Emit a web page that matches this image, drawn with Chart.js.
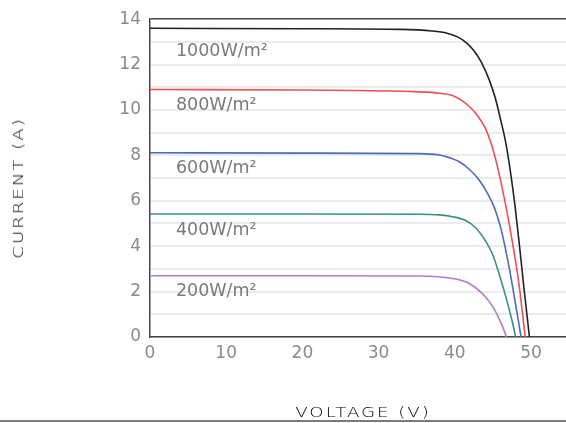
<!DOCTYPE html>
<html>
<head>
<meta charset="utf-8">
<script src="https://cdn.jsdelivr.net/npm/chart.js@4.4.1/dist/chart.umd.min.js"></script>
<style>
  html, body { margin: 0; padding: 0; background: #fff; }
  .wrap { position: relative; width: 566px; height: 423px; overflow: hidden; }
  canvas { position: absolute; left: 0; top: 0; }
  .axis-title {
    position: absolute;
    font-family: "DejaVu Sans", sans-serif;
    font-weight: 200;
    font-size: 14px;
    letter-spacing: 1.5px;
    color: #000;
    white-space: nowrap;
  }
  #yTitle { left: 18px; top: 188px; transform: translate(-50%, -50%) rotate(-90deg) scaleX(1.3); }
  #xTitle { left: 363px; top: 412px; transform: translate(-50%, -50%) scaleX(1.3); }
  .baseline { position: absolute; left: 0; right: 0; top: 420px; height: 2px; background: #7a7a7a; }
</style>
</head>
<body>
<div class="wrap">
  <canvas id="ivChart" width="566" height="423"></canvas>
  <div class="axis-title" id="yTitle">CURRENT (A)</div>
  <div class="axis-title" id="xTitle">VOLTAGE (V)</div>
  <div class="baseline"></div>
</div>
<script>
// Series names
const irradiance = ['1000W/m²', '800W/m²', '600W/m²', '400W/m²', '200W/m²'];

// I-V curves (voltage in V, current in A)
const v1000 = [0, 20, 33, 37, 39, 40.5, 41.5, 42.5, 43.5, 44.5, 45.3, 46, 46.7, 47.3, 47.9, 48.5, 49.1, 49.8];
const i1000 = [13.6, 13.58, 13.55, 13.48, 13.38, 13.2, 12.97, 12.62, 12.1, 11.35, 10.55, 9.6, 8.55, 7.3, 5.8, 4.0, 2.1, 0];

const v800 = [0, 20, 35.3, 38, 39.7, 41, 42, 43, 44, 44.8, 45.5, 46.2, 46.8, 47.5, 48.4, 49.25];
const i800 = [10.9, 10.88, 10.8, 10.74, 10.64, 10.4, 10.12, 9.75, 9.2, 8.5, 7.65, 6.6, 5.6, 4.3, 2.4, 0];

const v600 = [0, 20, 35.3, 38, 39.5, 40.6, 41.9, 43.2, 44.3, 45.2, 46, 46.8, 47.6, 48.7];
const i600 = [8.12, 8.1, 8.08, 8.02, 7.88, 7.72, 7.39, 6.92, 6.33, 5.7, 4.85, 3.65, 2.2, 0];

const v400 = [0, 20, 35.3, 38, 39.7, 41.5, 42.8, 44.1, 45, 45.8, 46.7, 47.5, 48.0];
const i400 = [5.42, 5.42, 5.41, 5.38, 5.3, 5.12, 4.79, 4.2, 3.61, 2.8, 1.78, 0.75, 0];

const v200 = [0, 20, 35.3, 39.7, 41.9, 43.6, 45, 46.1, 46.8];
const i200 = [2.7, 2.7, 2.69, 2.58, 2.36, 1.92, 1.33, 0.6, 0];

// Tick labels
const xTickLabels = [0, 10, 20, 30, 40, 50];
const yTickLabels = [0, 2, 4, 6, 8, 10, 12, 14];

const lineColors = ['#222222', '#ee4f52', '#4a6cbf', '#3a8f82', '#b57cc6'];

function toPoints(vs, is) {
    return vs.map((v, k) => ({ x: v, y: is[k] }));
}

const curves = [
    toPoints(v1000, i1000),
    toPoints(v800, i800),
    toPoints(v600, i600),
    toPoints(v400, i400),
    toPoints(v200, i200)
];

// Draw the irradiance name under each curve
const curveLabels = {
    id: 'curveLabels',
    afterDatasetsDraw(chart) {
        const ctx = chart.ctx;
        const x = chart.scales.x.getPixelForValue(3.4);
        ctx.save();
        ctx.font = '17.5px "DejaVu Sans", sans-serif';
        ctx.fillStyle = '#7a7a7a';
        ctx.textBaseline = 'middle';
        chart.data.datasets.forEach((ds, i) => {
            const y = chart.getDatasetMeta(i).data[0].y + (i === 0 ? 23 : 16);
            ctx.fillText(ds.label, x, y);
        });
        ctx.restore();
    }
};

const ctx = document.getElementById('ivChart').getContext('2d');
const ivChart = new Chart(ctx, {
    type: 'line',
    data: {
        datasets: curves.map((pts, i) => ({
            label: irradiance[i],
            data: pts,
            borderColor: lineColors[i],
            borderWidth: 1.6,
            pointRadius: 0,
            fill: false,
            cubicInterpolationMode: 'monotone'
        }))
    },
    options: {
        responsive: false,
        animation: false,
        layout: { padding: { top: 19, right: 0, left: 0, bottom: 0 } },
        plugins: {
            legend: { display: false },
            tooltip: { enabled: false }
        },
        scales: {
            x: {
                type: 'linear',
                min: 0,
                max: 54.6,
                afterFit: function(scale) { scale.height = 86; },
                ticks: {
                    stepSize: 10,
                    autoSkip: false,
                    includeBounds: false,
                    maxRotation: 0,
                    padding: 6,
                    color: '#8a8a8a',
                    font: { family: 'DejaVu Sans', size: 17 },
                    callback: function(value) {
                        return xTickLabels.includes(value) ? value : '';
                    }
                },
                grid: { drawOnChartArea: false, drawTicks: false },
                border: { display: true, color: '#444', width: 1.5 }
            },
            y: {
                type: 'linear',
                min: 0,
                max: 14,
                afterFit: function(scale) { scale.width = 150; },
                ticks: {
                    stepSize: 1,
                    autoSkip: false,
                    padding: 9,
                    color: '#8a8a8a',
                    font: { family: 'DejaVu Sans', size: 17 },
                    callback: function(value) {
                        return yTickLabels.includes(value) ? value : '';
                    }
                },
                grid: {
                    drawTicks: false,
                    color: function(c) { return c.tick && c.tick.value === 14 ? '#444' : '#ebebeb'; },
                    lineWidth: function(c) { return c.tick && c.tick.value === 14 ? 1.5 : 2; }
                },
                border: { display: true, color: '#444', width: 1.5 }
            }
        }
    },
    plugins: [curveLabels]
});
</script>
</body>
</html>
